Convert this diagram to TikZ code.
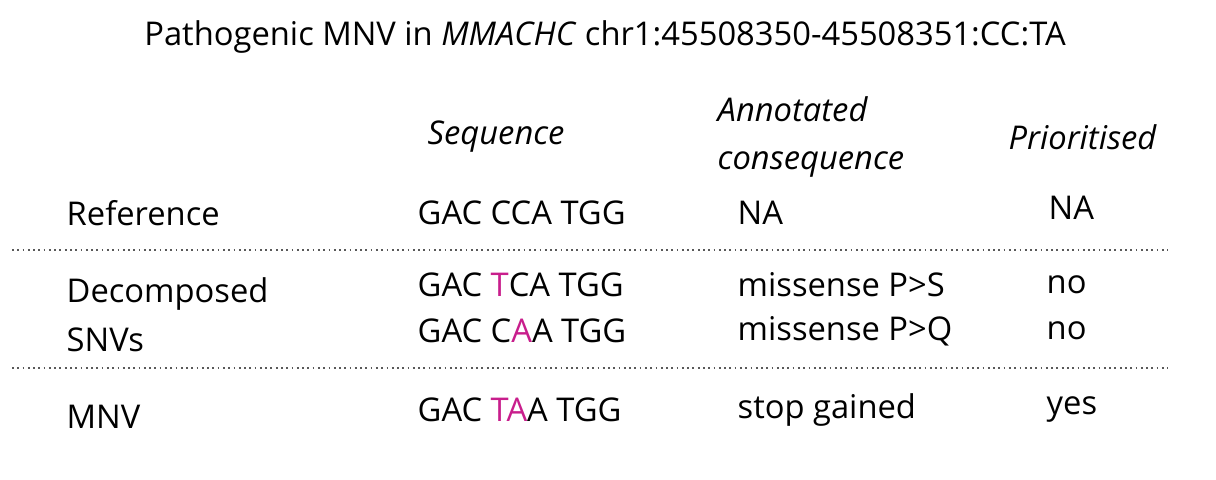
\documentclass[tikz,border=0pt]{standalone}
\usepackage{fontspec}
\setmainfont{Open Sans}
\usepackage{tikz}
\usetikzlibrary{positioning}
\definecolor{mutpink}{RGB}{200,30,140}
\newcommand{\mut}[1]{\textcolor{mutpink}{#1}}

\begin{document}
\begin{tikzpicture}[
    x=0.01cm, y=-0.01cm,
    txt/.style={anchor=west, inner sep=0pt, font=\fontsize{9.3}{11}\selectfont},
    head/.style={txt, font=\fontsize{9.3}{13.5}\selectfont\itshape, align=left},
    sep/.style={densely dotted, gray!70!black, line width=0.5pt}
]
\useasboundingbox (0,0) rectangle (1216,479);
% === Title ===
\node[inner sep=0pt, font=\fontsize{9.3}{11}\selectfont] (title) at (605,37) {Pathogenic MNV in \textit{MMACHC} chr1:45508350-45508351:CC:TA};

% Column headers
\node[head] (hseq) at (427,137) {Sequence};
\node[head] (hcons) at (717,137) {Annotated\\consequence};
\node[head] (hprio) at (1008,137) {Prioritised};

% Reference row
\node[txt] (refname) at (66,213) {Reference};
\node[txt] (refseq) at (417,213) {GAC CCA TGG};
\node[txt] (refcons) at (737,213) {NA};
\node[txt] (refprio) at (1048,208) {NA};

\coordinate (sepAl) at (12,250);
\coordinate (sepAr) at (1168,250);
\draw[sep] (sepAl) -- (sepAr);

% Decomposed SNVs
\node[txt] (snvname1) at (66,294) {Decomposed};
\node[txt] (snvname2) at (66,340) {SNVs};
\node[txt] (snvseq1) at (417,285) {GAC \mut{T}CA TGG};
\node[txt] (snvseq2) at (417,331) {GAC C\mut{A}A TGG};
\node[txt] (snvcons1) at (737,285) {missense P>S};
\node[txt] (snvcons2) at (737,331) {missense P>Q};
\node[txt] (snvprio1) at (1046,285) {no};
\node[txt] (snvprio2) at (1046,331) {no};

\coordinate (sepBl) at (12,368);
\coordinate (sepBr) at (1168,368);
\draw[sep] (sepBl) -- (sepBr);

% MNV row
\node[txt] (mnvname) at (66,417) {MNV};
\node[txt] (mnvseq) at (417,410) {GAC \mut{TA}A TGG};
\node[txt] (mnvcons) at (737,410) {stop gained};
\node[txt] (mnvprio) at (1046,410) {yes};
\end{tikzpicture}
\end{document}
